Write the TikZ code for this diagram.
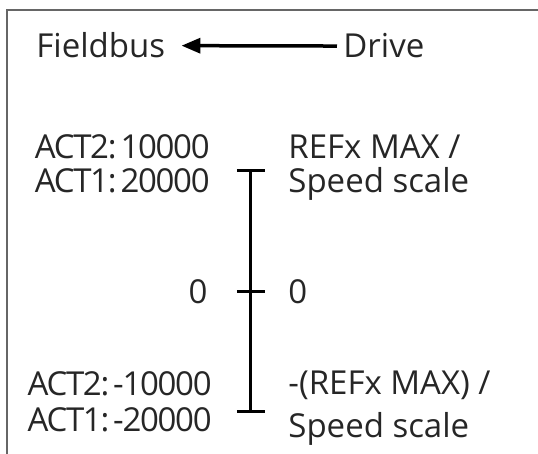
\documentclass[tikz,border=0pt]{standalone}
\usepackage{fontspec}
\setmainfont{Open Sans}
\usetikzlibrary{arrows.meta}

\begin{document}
\begin{tikzpicture}[x=0.5pt,y=-0.5pt,
  lbl/.style={inner sep=0pt,font=\fontsize{16.5}{19}\selectfont,text=black!85},
  actlbl/.style={lbl,font=\fontsize{16.5}{19}\selectfont\addfontfeatures{LetterSpace=-4}}]
\useasboundingbox (0,0) rectangle (538,454);
\draw[black!60,line width=1pt] (538,10) -- (7,10) -- (7,454);

\node[lbl,anchor=base west] (fieldbus) at (36,58) {Fieldbus};
\node[lbl,anchor=base west] (drive) at (343,58) {Drive};
\draw[line width=1.75pt,-{Triangle[length=9.5pt,width=7.5pt]},shorten <=3pt,shorten >=8pt] (drive.west) -- (fieldbus.east);

\coordinate (top) at (251,171);
\coordinate (zero) at (251,292);
\coordinate (bot) at (251,412);
\draw[line width=1.5pt] (top) -- (bot);
\draw[line width=1.5pt] ([xshift=-7pt]top) -- ([xshift=7pt]top);
\draw[line width=1.5pt] ([xshift=-7pt]zero) -- ([xshift=7pt]zero);
\draw[line width=1.5pt] ([xshift=-7pt]bot) -- ([xshift=7pt]bot);

\node[actlbl,anchor=base east] (act2max) at (210,159) {ACT2:\hspace{0.12em}10000};
\node[actlbl,anchor=base east] (act1max) at (210,193) {ACT1:\hspace{0.12em}20000};
\node[lbl,anchor=base west] (refmax) at (288,159) {REFx MAX /};
\node[lbl,anchor=base west] (scalemax) at (288,193) {Speed scale};

\node[lbl,anchor=east] (zeroleft) at (208,292) {0};
\node[lbl,anchor=west] (zeroright) at (288,292) {0};

\node[actlbl,anchor=base east] (act2min) at (212,396) {ACT2:\hspace{0.12em}-10000};
\node[actlbl,anchor=base east] (act1min) at (212,432) {ACT1:\hspace{0.12em}-20000};
\node[lbl,anchor=base west] (refmin) at (288,395) {-(REFx MAX) /};
\node[lbl,anchor=base west] (scalemin) at (288,438) {Speed scale};
\end{tikzpicture}
\end{document}
